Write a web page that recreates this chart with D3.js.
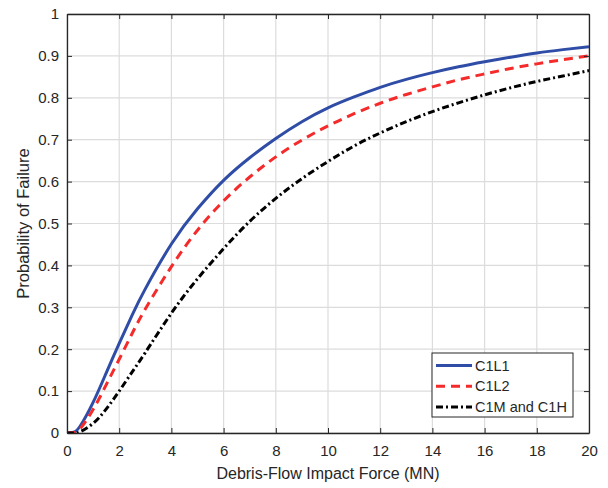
<!DOCTYPE html>
<html><head><meta charset="utf-8">
<script src="https://cdn.jsdelivr.net/npm/d3@7"></script>
<style>body{margin:0;background:#fff}svg{display:block}text{font-family:"Liberation Sans",Arial,sans-serif;fill:#262626}</style>
</head><body>
<svg id="c" width="608" height="488"></svg>
<script>
const forceMN = [0,0.25,0.5,1,1.5,2,2.5,3,4,5,6,7,8,9,10,11,12,13,14,15,16,17,18,19,20];
const c1l1 = [0,0.002,0.016,0.073,0.143,0.214,0.282,0.344,0.451,0.535,0.603,0.657,0.703,0.743,0.776,0.802,0.825,0.844,0.860,0.874,0.886,0.897,0.907,0.915,0.922];
const c1l2 = [0,0.001,0.010,0.056,0.115,0.176,0.238,0.296,0.397,0.484,0.554,0.611,0.659,0.699,0.733,0.762,0.787,0.808,0.826,0.843,0.857,0.870,0.881,0.891,0.900];
const c1mh = [0,0.000,0.003,0.023,0.057,0.100,0.146,0.192,0.286,0.368,0.440,0.505,0.560,0.607,0.648,0.685,0.716,0.743,0.767,0.788,0.807,0.824,0.839,0.852,0.865];
const seriesNames = ["C1L1","C1L2","C1M and C1H"];
const xTicks = [0,2,4,6,8,10,12,14,16,18,20];
const yTicks = [0,0.1,0.2,0.3,0.4,0.5,0.6,0.7,0.8,0.9,1];

const svg = d3.select("#c");
const L=67,R=589,T=14,B=433;
const x = d3.scaleLinear().domain([0,20]).range([L,R]);
const y = d3.scaleLinear().domain([0,1]).range([B,T]);
const ax="#262626";

// grid
const g = svg.append("g");
g.selectAll(".gx").data(xTicks).enter().append("line")
 .attr("x1",d=>x(d)).attr("x2",d=>x(d)).attr("y1",T).attr("y2",B)
 .attr("stroke","#dcdcdc").attr("stroke-width",1.2);
g.selectAll(".gy").data(yTicks).enter().append("line")
 .attr("y1",d=>y(d)).attr("y2",d=>y(d)).attr("x1",L).attr("x2",R)
 .attr("stroke","#dcdcdc").attr("stroke-width",1.2);

// curves (clipped to plot area)
svg.append("clipPath").attr("id","clip").append("rect")
 .attr("x",L).attr("y",T).attr("width",R-L).attr("height",B-T);
const line = d3.line().x(d=>x(d[0])).y(d=>y(Math.max(0,d[1]))).curve(d3.curveNatural);
const styles = [
  {data:c1l1,color:"#2f4da6",dash:null},
  {data:c1l2,color:"#f52a2a",dash:"9,6"},
  {data:c1mh,color:"#000000",dash:"7,3,2,3"}
];
const cg = svg.append("g").attr("clip-path","url(#clip)");
styles.forEach(s=>{
  cg.append("path").datum(forceMN.map((f,i)=>[f,s.data[i]]))
   .attr("d",line).attr("fill","none").attr("stroke",s.color)
   .attr("stroke-width",3).attr("stroke-dasharray",s.dash);
});

// axes
const xb = svg.append("g").attr("transform",`translate(0,${B})`)
 .call(d3.axisBottom(x).tickValues(xTicks).tickSizeInner(-5).tickSizeOuter(0).tickPadding(12.5).tickFormat(d3.format("d")));
const xt = svg.append("g").attr("transform",`translate(0,${T})`)
 .call(d3.axisTop(x).tickValues(xTicks).tickSizeInner(-5).tickSizeOuter(0).tickFormat(""));
const yl = svg.append("g").attr("transform",`translate(${L},0)`)
 .call(d3.axisLeft(y).tickValues(yTicks).tickSizeInner(-5).tickSizeOuter(0).tickPadding(8).tickFormat(d=>d===0?"0":d===1?"1":d3.format(".1f")(d)));
const yr = svg.append("g").attr("transform",`translate(${R},0)`)
 .call(d3.axisRight(y).tickValues(yTicks).tickSizeInner(-5).tickSizeOuter(0).tickFormat(""));
[xb,xt,yl,yr].forEach(a=>{
  a.selectAll("path").attr("stroke",ax).attr("stroke-width",1.3);
  a.selectAll("line").attr("stroke",ax).attr("stroke-width",1);
  a.selectAll("text").style("font-size","15px").attr("fill",ax);
});

// legend
const lg = svg.append("g");
lg.append("rect").attr("x",432).attr("y",353).attr("width",141).attr("height",64)
 .attr("fill","#fff").attr("stroke",ax).attr("stroke-width",1);
seriesNames.forEach((n,i)=>{
  const yy = 365.5+i*20.8;
  lg.append("line").attr("x1",436).attr("x2",472).attr("y1",yy).attr("y2",yy)
   .attr("stroke",styles[i].color).attr("stroke-width",3).attr("stroke-dasharray",styles[i].dash);
  lg.append("text").attr("x",475).attr("y",yy+5).style("font-size","14.5px").text(n);
});

// labels
svg.append("text").attr("x",(L+R)/2).attr("y",479).attr("text-anchor","middle")
 .style("font-size","16px").text("Debris-Flow Impact Force (MN)");
svg.append("text").attr("transform",`translate(28.5,${(T+B)/2}) rotate(-90)`).attr("text-anchor","middle")
 .style("font-size","16.5px").text("Probability of Failure");
</script>
</body></html>
